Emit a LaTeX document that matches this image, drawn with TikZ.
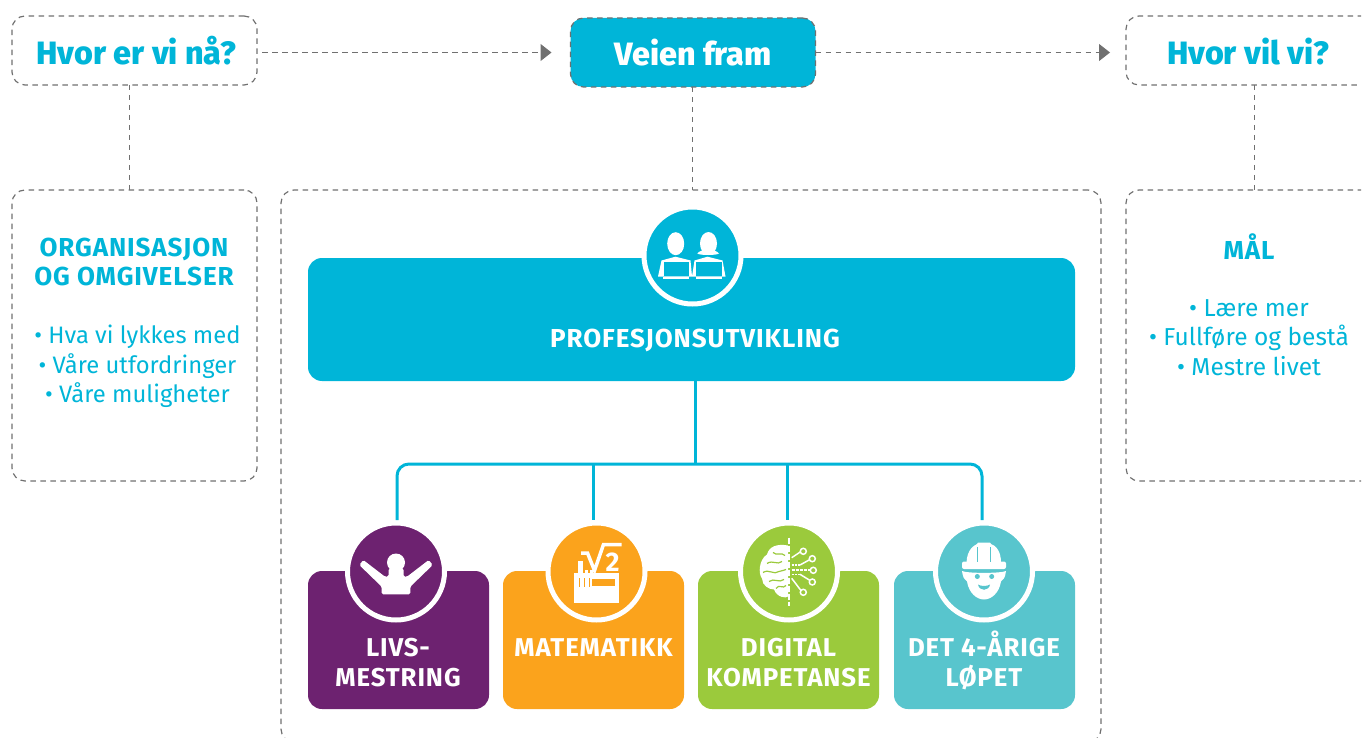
\documentclass[tikz,border=0pt]{standalone}
\usepackage{fontspec}
\setmainfont{Fira Sans}
\newfontface\headface{Fira Sans ExtraBold}
\usetikzlibrary{arrows.meta}
\definecolor{cyanblue}{HTML}{00B5D8}
\definecolor{dashgray}{HTML}{707070}
\definecolor{livspurple}{HTML}{6D2270}
\definecolor{matorange}{HTML}{FBA31C}
\definecolor{diggreen}{HTML}{9BCA3C}
\definecolor{detteal}{HTML}{58C5CD}
\newcommand{\widebold}{\bfseries\addfontfeature{LetterSpace=3.5}}
\tikzset{
  dashbox/.style={draw=dashgray,line width=1.2pt,dash pattern=on 5.5pt off 4.5pt,rounded corners=13pt,inner sep=0pt,outer sep=0pt},
  dashline/.style={draw=dashgray,line width=1pt,dash pattern=on 5.5pt off 4.5pt},
  arrowline/.style={dashline,-{Triangle[length=11pt,width=17pt,fill=dashgray]}},
  headtext/.style={font=\fontsize{32.3}{34}\selectfont\headface},
  listtext/.style={text=cyanblue,align=center,font=\fontsize{23.8}{29.3}\selectfont},
  sidetitle/.style={text=cyanblue,align=center,font=\fontsize{26}{29.3}\selectfont\widebold},
  cardbox/.style={rounded corners=14pt,minimum width=181pt,minimum height=138pt,inner sep=0pt,outer sep=0pt,anchor=north west},
  cardtext/.style={text=white,align=center,font=\fontsize{25.8}{30}\selectfont\widebold},
  iconring/.style={circle,draw=white,line width=5pt,minimum size=97pt,inner sep=0pt,outer sep=0pt},
  busline/.style={draw=cyanblue,line width=3pt}
}
\begin{document}
\begin{tikzpicture}[x=1pt,y=-1pt]
  \useasboundingbox (0,0) rectangle (1365,738);
  \clip (0,0) rectangle (1361,738);
  % top row
  \node [dashbox,minimum width=245pt,minimum height=69pt] (naa) at (134.5,50.5) {};
  \node [text=cyanblue,headtext] (naatext) at (136.5,51) {Hvor er vi nå?};
  \node [dashbox,fill=cyanblue,minimum width=245pt,minimum height=69pt,text=white,headtext] (veien) at (693,52.5) {Veien fram};
  \node [dashbox,minimum width=280pt,minimum height=69pt,anchor=west] (vil) at (1126,50.5) {};
  \node [text=cyanblue,headtext] (viltext) at (1248,52) {Hvor vil vi?};
  % dashed boxes
  \node [dashbox,minimum width=245pt,minimum height=291pt,anchor=north west] (org) at (12,190) {};
  \node [dashbox,minimum width=820pt,minimum height=552pt,anchor=north west] (veibox) at (281,190) {};
  \node [dashbox,minimum width=280pt,minimum height=291pt,anchor=north west] (maal) at (1126,190) {};
  \draw [arrowline,shorten <=5pt,shorten >=19pt] (naa.east |- veien.west) -- (veien.west);
  \draw [arrowline,shorten >=16pt] (veien.east) -- (veien.east -| vil.west);
  \draw [dashline] ([xshift=-5.5pt]naa.south) -- ([xshift=-5.5pt]org.north);
  \draw [dashline] ([xshift=-1pt]veien.south) -- ([xshift=-1pt]veien.south |- veibox.north);
  \draw [dashline] (vil.south -| 1254,0) -- (maal.north -| 1254,0);
  % texts in side boxes
  \node [sidetitle] (orgtitle) at (134,262) {ORGANISASJON\\OG OMGIVELSER};
  \node [listtext] (orglist) at (137.5,366.5) {• Hva vi lykkes med\\• Våre utfordringer\\• Våre muligheter};
  \node [sidetitle] (maaltitle) at (1249,246.5) {MÅL};
  \node [listtext,font=\fontsize{24.5}{29.3}\selectfont] (maallist) at (1249,337.5) {• Lære mer\\• Fullføre og bestå\\• Mestre livet};
  % profesjonsutvikling
  \node [fill=cyanblue,rounded corners=14pt,minimum width=767pt,minimum height=123pt,inner sep=0pt,outer sep=0pt,anchor=north west] (prof) at (308,258) {};
  \node [text=white,font=\fontsize{26}{28}\selectfont\widebold] (proftext) at (695,340) {PROFESJONSUTVIKLING};
  \node [iconring,fill=cyanblue] (profic) at (692.5,255.5) {};
  % the four cards
  \node [cardbox,fill=livspurple] (livs) at (308,571) {};
  \node [cardbox,fill=matorange] (mat) at (503,571) {};
  \node [cardbox,fill=diggreen] (dig) at (698,571) {};
  \node [cardbox,fill=detteal] (det) at (894,571) {};
  \node [cardtext] (livstext) at (398,663) {LIVS-\\MESTRING};
  \node [cardtext] (mattext) at (593.5,648) {MATEMATIKK};
  \node [cardtext] (digtext) at (788.5,663) {DIGITAL\\KOMPETANSE};
  \node [cardtext] (dettext) at (984,660.5) {DET 4-ÅRIGE\\LØPET};
  \node [iconring,fill=livspurple] (livsic) at (396,571.5) {};
  \node [iconring,fill=matorange] (matic) at (596.5,571.5) {};
  \node [iconring,fill=diggreen] (digic) at (789,571.5) {};
  \node [iconring,fill=detteal] (detic) at (984,571.5) {};
  % tree
  \coordinate (bus) at (695,464);
  \coordinate (l1) at (397,520);
  \coordinate (l2) at (593,520);
  \coordinate (l3) at (787,520);
  \coordinate (l4) at (982,520);
  \draw [busline] (prof.south -| bus) -- (bus);
  \draw [busline,rounded corners=12pt] (l1) -- (l1 |- bus) -- (l4 |- bus) -- (l4);
  \draw [busline] (l2 |- bus) -- (l2);
  \draw [busline] (l3 |- bus) -- (l3);
  % icon, two persons
  \begin{scope}[shift={(profic.center)}]
    \fill [white] (-16.8,-11.8) ellipse (8.5 and 11.5);
    \fill [white] (16,-12) ellipse (8.5 and 11.5);
    \fill [white] (4.8,-2) .. controls (8,-7) and (23,-7) .. (26.5,-2) .. controls (24,0) and (7,0) .. (4.8,-2);
    \fill [white] (-34.5,21) -- (-31,5) -- (-17,1.2) -- (-2,5) -- (-0.5,21) -- cycle;
    \fill [white] (-0.5,21) -- (2,5) -- (15,1.2) -- (30,5) -- (33,21) -- cycle;
    \fill [cyanblue] (-29,6) rectangle (-3.5,20.5);
    \fill [cyanblue] (3,6) rectangle (29,20.5);
    \fill [white] (-29.5,21.5) rectangle (-3.5,23);
    \fill [white] (3,21.5) rectangle (29,23);
  \end{scope}
  % icon, arms up
  \begin{scope}[shift={(livsic.center)}]
    \fill [white] (0,-9) circle (9);
    \fill [white,rounded corners=1.5pt] (-14.3,22.8) -- (-14.3,15.2) -- (-36.7,-6.5) -- (-32.7,-11.5) -- (-11,5.2) -- (-7.5,5.2) -- (-7.5,-3) -- (7.5,-3) -- (7.5,5.2) -- (11,5.2) -- (32.7,-11.5) -- (36.7,-6.5) -- (14.3,15.2) -- (14.3,22.8) -- cycle;
  \end{scope}
  % icon, root and tool box
  \begin{scope}[shift={(matic.center)}]
    \draw [white,line width=3.5pt] (-15.5,-18.5) -- (-9,-18.5) -- (-2,-1) -- (7,-27) -- (25,-27);
    \node [text=white,font=\fontsize{27}{27}\selectfont\bfseries,inner sep=0pt] (rot2) at (16,-9.5) {2};
    \fill [white] (-22.5,1.2) rectangle (22.5,31);
    \fill [matorange] (-5,7.5) rectangle (18.5,14.5);
    \fill [white] (-18.5,-11) rectangle (-13.5,2);
    \fill [white] (-12,-2) rectangle (-9,2);
    \fill [white] (-7,-2) rectangle (-4,2);
    \fill [matorange] (-18,6) rectangle (-17,15);
    \fill [matorange] (-13,6) rectangle (-12,15);
    \fill [matorange] (-8,6) rectangle (-7,15);
  \end{scope}
  % icon, brain and circuit
  \begin{scope}[shift={(digic.center)}]
    \fill [white] (-1,-26) .. controls (-12,-28) and (-20,-25) .. (-22,-17) .. controls (-30,-12) and (-31,2) .. (-27,7) .. controls (-27,14) and (-20,18) .. (-15,18) .. controls (-12,26) and (-3,27) .. (-1,25) -- cycle;
    \draw [diggreen,line width=1.2pt] (-22,-8) .. controls (-16,-12) and (-12,-6) .. (-7,-10);
    \draw [diggreen,line width=1.2pt] (-16,-19) .. controls (-12,-15) and (-8,-20) .. (-4,-16);
    \draw [diggreen,line width=1.2pt] (-26,1) .. controls (-20,-3) and (-15,4) .. (-10,0) .. controls (-7,-2) and (-5,0) .. (-3,-2);
    \draw [diggreen,line width=1.2pt] (-20,10) .. controls (-15,6) and (-10,12) .. (-5,8);
    \draw [diggreen,line width=1.2pt] (-13,17) .. controls (-10,12) and (-6,18) .. (-3,14);
    \draw [white,line width=1.5pt,dash pattern=on 6pt off 2pt] (0,-34) -- (0,34);
    \draw [white,line width=1.5pt] (2.7,-13.8) -- (12.7,-20.5);
    \draw [white,line width=1.5pt,dash pattern=on 2pt off 1pt] (2.7,-6.5) -- (11,-6.5);
    \draw [white,line width=1.5pt] (11,-6.5) -- (22.7,-13);
    \draw [white,line width=1.5pt,dash pattern=on 3pt off 1pt] (2.7,-1.5) -- (24,-1.5);
    \draw [white,line width=1.5pt,dash pattern=on 2pt off 1pt] (2.7,2.8) -- (11,2.8);
    \draw [white,line width=1.5pt] (11,2.8) -- (22.7,10);
    \draw [white,line width=1.5pt] (2.7,6.8) -- (12.7,20);
    \draw [white,line width=1.5pt,fill=diggreen] (14.3,-20.2) circle (3);
    \draw [white,line width=1.5pt,fill=diggreen] (23.3,-12.8) circle (3);
    \draw [white,line width=1.5pt,fill=diggreen] (24.3,-1.2) circle (3);
    \draw [white,line width=1.5pt,fill=diggreen] (23.3,10.5) circle (3);
    \draw [white,line width=1.5pt,fill=diggreen] (14.3,20.8) circle (3);
  \end{scope}
  % icon, builder
  \begin{scope}[shift={(detic.center)}]
    \fill [white] (-17.5,-9) .. controls (-17,-22) and (-10,-26) .. (-7,-27.5) -- (-6,-29) -- (6,-29) -- (7,-27.5) .. controls (12,-26) and (17,-20) .. (17,-9) -- cycle;
    \fill [white,rounded corners=2pt] (-22,-10) rectangle (22,-2.5);
    \fill [detteal] (-7,-25) rectangle (-6,-10);
    \fill [detteal] (6,-25) rectangle (7,-10);
    \fill [white] (-22,-0.5) .. controls (-21,6) and (-20,8) .. (-17,10) .. controls (-15,22) and (-7,28) .. (0,28) .. controls (7,28) and (15,22) .. (17,10) .. controls (20,8) and (21,6) .. (22,-0.5) .. controls (17,2) and (-17,2) .. (-22,-0.5) -- cycle;
    \fill [detteal] (-6.7,5) circle (2.5);
    \fill [detteal] (7.7,5) circle (2.5);
    \fill [detteal] (-6,13) .. controls (-3,15) and (3,15) .. (6,13) .. controls (5,20) and (-5,20) .. (-6,13) -- cycle;
  \end{scope}
\end{tikzpicture}
\end{document}
